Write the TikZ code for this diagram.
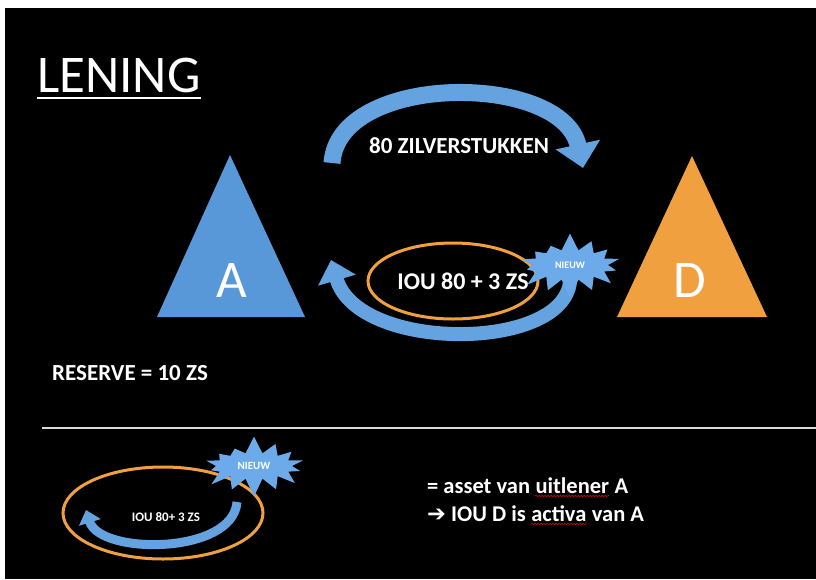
\documentclass[tikz,border=0pt]{standalone}
\usepackage{fontspec}
\setmainfont{Carlito}
\newfontfamily\symfont{DejaVu Sans}
\usetikzlibrary{arrows.meta, shapes.geometric, shapes.symbols, positioning, decorations.pathmorphing}

\definecolor{lenderblue}{RGB}{88,152,216}
\definecolor{debtororange}{RGB}{240,160,62}
\definecolor{flowblue}{RGB}{100,162,224}
\definecolor{burstblue}{RGB}{108,170,234}

\begin{document}
\begin{tikzpicture}[x=1pt, y=-1pt]

\tikzset{party/.style = {text=white, inner sep=0pt, font=\fontsize{53}{53}\selectfont}}
\tikzset{caption/.style = {text=white, inner sep=0pt, font=\bfseries\fontsize{23}{23}\selectfont}}
\tikzset{note/.style = {text=white, inner sep=0pt, font=\bfseries\fontsize{22.5}{22.5}\selectfont}}
\tikzset{flow/.style = {draw=flowblue, -{Triangle[length=24pt, width=44pt]}}}
\tikzset{ring/.style = {ellipse, draw=debtororange, line width=3pt, inner sep=0pt}}
\tikzset{burst/.style = {starburst, fill=burstblue, starburst points=14, starburst point height=18pt, random starburst=7, text=white, inner sep=0pt, font=\bfseries\fontsize{10}{10}\selectfont}}
\tikzset{squiggle/.style = {draw=red!85!black, line width=0.6pt, decorate, decoration={snake, amplitude=0.8pt, segment length=3pt}}}

% background
\fill[white] (0,0) rectangle (816,579);
\fill[black] (5,8) rectangle (816,579);
\useasboundingbox (0,0) rectangle (816,579);

% title
\node[party, anchor=base west] (lening) at (37,92) {LENING};
\draw[white, line width=2.5pt] ([yshift=-6pt]lening.base west) -- ([yshift=-6pt]lening.base east);

% parties
\fill[lenderblue] (230,155) -- (305,317) -- (157,317) -- cycle;
\fill[debtororange] (692,156) -- (767,317) -- (617,317) -- cycle;
\node[party] (a) at (232,280) {A};
\node[party] (d) at (690,280) {D};

% loan
\coordinate (give-s) at (332,163);
\coordinate (give-e) at (583,168);
\draw[flow, line width=17pt] (give-s) .. controls (338,72) and (562,72) .. (give-e);
\node[caption] (silver) at (459,146) {80 ZILVERSTUKKEN};

% IOU back
\coordinate (back-s) at (570,282);
\coordinate (back-e) at (331,260);
\draw[flow, line width=14pt, -{Triangle[length=21pt, width=38pt]}] (back-s) .. controls (562,352) and (358,352) .. (back-e);
\node[ring, minimum width=170pt, minimum height=76pt] (iou-ring) at (453,281) {};
\node[caption, font=\bfseries\fontsize{24}{24}\selectfont] (iou) at (463,281) {IOU 80 + 3 ZS};
\node[burst, minimum width=112pt, minimum height=66pt] (new) at (570,265) {NIEUW};

% reserve
\node[caption, anchor=base west] (reserve) at (52,380) {RESERVE = 10 ZS};

% divider
\coordinate (rule-l) at (42,428);
\coordinate (rule-r) at (816,428);
\draw[white!85!black, line width=2pt] (rule-l) -- (rule-r);

% legend
\node[ring, minimum width=200pt, minimum height=92pt] (small-ring) at (163,513) {};
\coordinate (small-s) at (237,502);
\coordinate (small-e) at (86,510);
\draw[flow, line width=9pt, -{Triangle[length=13pt, width=22pt]}] (small-s) .. controls (233,555) and (100,555) .. (small-e);
\node[caption, font=\bfseries\fontsize{13}{13}\selectfont] (small-iou) at (166,517) {IOU 80+ 3 ZS};
\node[burst, minimum width=112pt, minimum height=62pt, font=\bfseries\fontsize{11}{11}\selectfont] (small-new) at (254,466) {NIEUW};

% explanation
\node[note, anchor=base west] (asset) at (427,493) {= asset van};
\node[note, base right=5pt of asset] (lender) {uitlener};
\node[note, base right=5pt of lender] (lender-a) {A};
\node[note, anchor=base west] (claim) at (427,521) {{\symfont\bfseries ➔} IOU D is};
\node[note, base right=5pt of claim] (assets) {activa};
\node[note, base right=5pt of assets] (assets-a) {van A};
\draw[squiggle] ([yshift=-3pt]lender.base west) -- ([yshift=-3pt]lender.base east);
\draw[squiggle] ([yshift=-3pt]assets.base west) -- ([yshift=-3pt]assets.base east);

\end{tikzpicture}
\end{document}
